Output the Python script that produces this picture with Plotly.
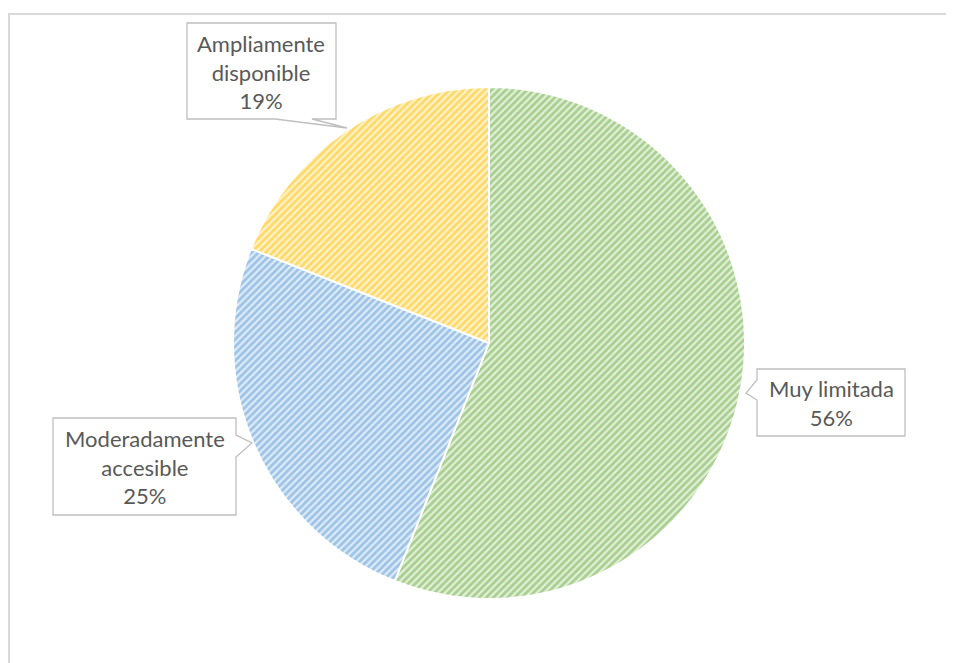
import plotly.graph_objects as go

labels = ['Muy limitada', 'Moderadamente accesible', 'Ampliamente disponible']
values = [56, 25, 19]
label_lines = [['Muy limitada'], ['Moderadamente', 'accesible'], ['Ampliamente', 'disponible']]

fg_colors = ['#70AD47', '#5B9BD5', '#FFC000']
bg_colors = ['#E2F0D9', '#DEEBF7', '#FFF2CC']

# the page body has an 8px margin, so the figure is a bit smaller
OFF = 8
W, H = 954 - OFF, 663 - OFF


def px(x, y):
    # screen pixel -> paper coords
    return (x - OFF) / W, 1 - (y - OFF) / H


def path(points):
    parts = []
    for i, (x, y) in enumerate(points):
        xp, yp = px(x, y)
        parts.append(('M' if i == 0 else 'L') + f'{xp:.5f},{yp:.5f}')
    return ' '.join(parts) + ' Z'


x0, y_top = px(233, 87)
x1, y_bot = px(745, 599)

fig = go.Figure()

fig.add_trace(go.Pie(
    labels=labels,
    values=values,
    sort=False,
    direction='clockwise',
    rotation=0,
    textinfo='none',
    hoverinfo='label+percent',
    domain=dict(x=[x0, x1], y=[y_bot, y_top]),
    marker=dict(
        colors=bg_colors,
        line=dict(color='white', width=2),
        pattern=dict(shape='/', fgcolor=fg_colors, bgcolor=bg_colors,
                     size=5, solidity=0.55, fillmode='overlay'),
    ),
    showlegend=False,
))

# callout boxes (box + tail pointing to slice)
callouts = [
    [(757, 369), (905, 369), (905, 436), (757, 436), (757, 400), (746, 393), (757, 380)],
    [(53, 418), (236, 418), (236, 435), (252, 443), (236, 457), (236, 515), (53, 515)],
    [(187, 23), (336, 23), (336, 119), (312, 119), (347, 128), (275, 119), (187, 119)],
]
centers = [(831, 403), (144.5, 467), (261.5, 72)]

fx, fy = px(9, 14)
shapes = [dict(type='rect', xref='paper', yref='paper',
               x0=fx, y0=-0.2, x1=1.2, y1=fy,
               line=dict(color='#D9D9D9', width=2), layer='below')]
annotations = []
total = sum(values)
for pts, (cx, cy), lines, v in zip(callouts, centers, label_lines, values):
    shapes.append(dict(type='path', xref='paper', yref='paper', path=path(pts),
                       fillcolor='white', line=dict(color='#BFBFBF', width=1.3)))
    xp, yp = px(cx, cy)
    annotations.append(dict(
        x=xp, y=yp, xref='paper', yref='paper', showarrow=False,
        text='<br>'.join(lines + [f'{round(v / total * 100)}%']),
        font=dict(family='Lato, Noto Sans, sans-serif', size=22, color='#595959'),
        align='center', xanchor='center', yanchor='middle',
    ))

fig.update_layout(
    width=W, height=H,
    margin=dict(l=0, r=0, t=0, b=0),
    paper_bgcolor='white',
    plot_bgcolor='white',
    shapes=shapes,
    annotations=annotations,
)

fig.write_html("out.html")
